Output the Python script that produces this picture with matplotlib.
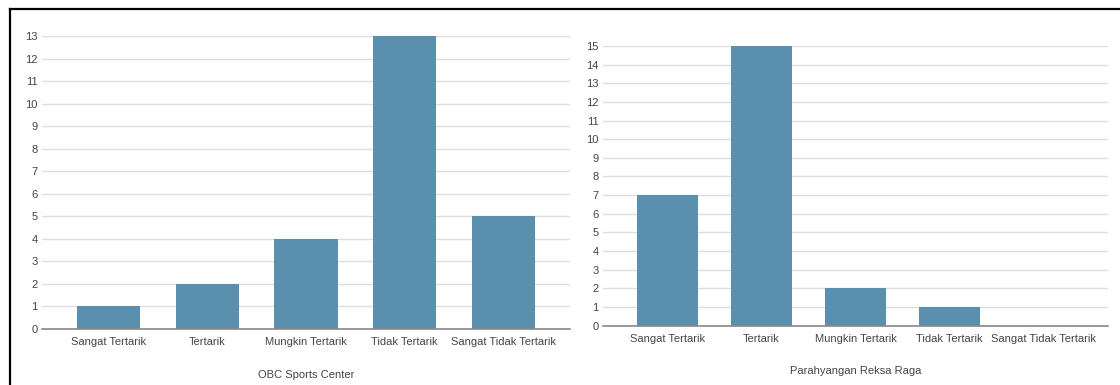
import matplotlib
matplotlib.use("Agg")
import matplotlib.pyplot as plt
from matplotlib.lines import Line2D

categories = ["Sangat Tertarik", "Tertarik", "Mungkin Tertarik", "Tidak Tertarik", "Sangat Tidak Tertarik"]
obc_values = [1, 2, 4, 13, 5]
prr_values = [7, 15, 2, 1, 0]
obc_title = "OBC Sports Center"
prr_title = "Parahyangan Reksa Raga"

plt.rcParams['font.family'] = ['Liberation Sans', 'DejaVu Sans']

W, H = 1120, 385
fig = plt.figure(figsize=(W / 100, H / 100), dpi=100)

BAR = "#5a8fae"
TXT = "#444444"
GRID = "#dddddd"
BASE = "#888888"


def px_axes(x0, x1, ytop, ybot):
    return fig.add_axes([x0 / W, 1 - ybot / H, (x1 - x0) / W, (ybot - ytop) / H])


def draw(ax, values, title, ymax, pad):
    x = list(range(len(categories)))
    ax.bar(x, values, width=0.64, color=BAR, zorder=3)
    ax.set_xlim(-pad, len(categories) - 1 + pad)
    ax.set_ylim(0, ymax)
    ax.set_yticks(range(0, ymax + 1))
    ax.set_xticks(x)
    ax.set_xticklabels(categories)
    for s in ["top", "right", "left"]:
        ax.spines[s].set_visible(False)
    ax.spines["bottom"].set_color(BASE)
    ax.spines["bottom"].set_linewidth(1.2)
    ax.spines["bottom"].set_zorder(4)
    ax.grid(axis="y", color=GRID, linewidth=1.0, zorder=0)
    ax.tick_params(axis="both", length=0, labelsize=8, colors=TXT)
    ax.tick_params(axis="y", pad=3)
    ax.tick_params(axis="x", pad=6)
    ax.set_xlabel(title, fontsize=8, color=TXT, labelpad=16)


ax1 = px_axes(42, 570, 36, 329)
draw(ax1, obc_values, obc_title, 13, 0.675)

ax2 = px_axes(603, 1108, 46, 325.5)
draw(ax2, prr_values, prr_title, 15, 0.685)

# outer frame (top and left edges)
fig.add_artist(Line2D([10 / W, 1.0], [1 - 9 / H, 1 - 9 / H], color="black", linewidth=1.6, transform=fig.transFigure))
fig.add_artist(Line2D([10 / W, 10 / W], [0.0, 1 - 9 / H], color="black", linewidth=1.6, transform=fig.transFigure))

fig.savefig("out.png", dpi=100, facecolor="white")
